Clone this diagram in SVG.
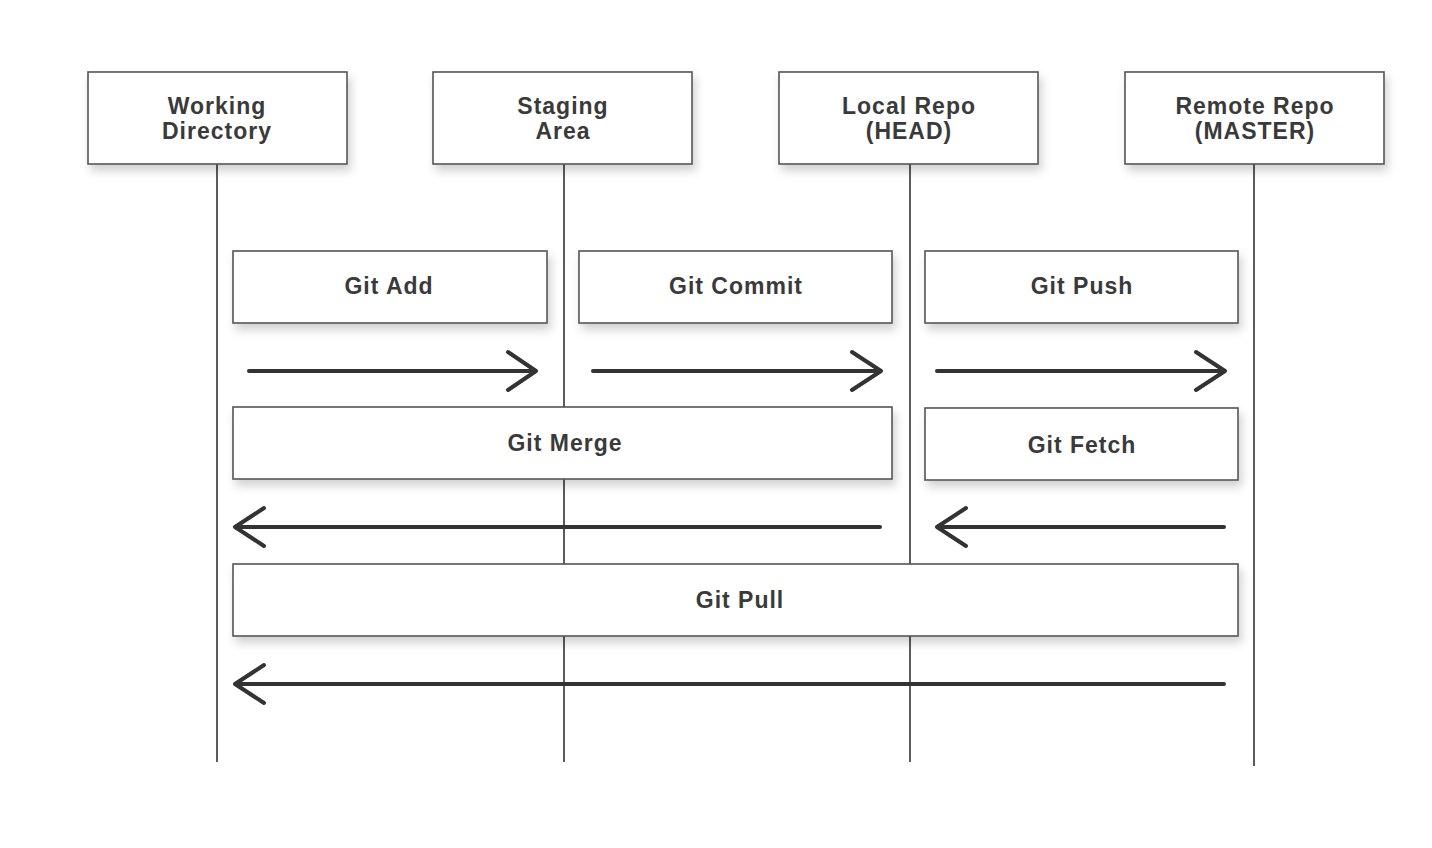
<svg xmlns="http://www.w3.org/2000/svg" width="1432" height="848" viewBox="0 0 1432 848">
<defs>
<filter id="sh" x="-10%" y="-20%" width="120%" height="160%">
<feDropShadow dx="3" dy="6" stdDeviation="5" flood-color="#000" flood-opacity="0.18"/>
</filter>
<style>
.box{fill:#fff;stroke:#555;stroke-width:1.6;filter:url(#sh)}
.lbl{font-family:"Liberation Sans",Arial,sans-serif;font-weight:bold;font-size:23px;letter-spacing:1px;fill:#3a3a3a;text-anchor:middle}
.life{stroke:#333;stroke-width:1.6;fill:none}
.arr{stroke:#333;stroke-width:4;fill:none;stroke-linecap:round;stroke-linejoin:round}
</style>
</defs>
<rect width="1432" height="848" fill="#fff"/>
<g id="lifelines">
<line class="life" x1="217" y1="164" x2="217" y2="762"/>
<line class="life" x1="564" y1="164" x2="564" y2="762"/>
<line class="life" x1="910" y1="164" x2="910" y2="762"/>
<line class="life" x1="1254" y1="164" x2="1254" y2="766"/>
</g>
<g id="working-directory"><rect class="box" x="88" y="72" width="259" height="92"/><text class="lbl" x="217" y="114">Working</text><text class="lbl" x="217" y="139">Directory</text></g>
<g id="staging-area"><rect class="box" x="433" y="72" width="259" height="92"/><text class="lbl" x="563" y="114">Staging</text><text class="lbl" x="563" y="139">Area</text></g>
<g id="local-repo"><rect class="box" x="779" y="72" width="259" height="92"/><text class="lbl" x="909" y="114">Local Repo</text><text class="lbl" x="909" y="139">(HEAD)</text></g>
<g id="remote-repo"><rect class="box" x="1125" y="72" width="259" height="92"/><text class="lbl" x="1255" y="114">Remote Repo</text><text class="lbl" x="1255" y="139">(MASTER)</text></g>
<g id="git-add"><rect class="box" x="233" y="251" width="314" height="72"/><text class="lbl" x="389" y="294">Git Add</text></g>
<g id="git-commit"><rect class="box" x="579" y="251" width="313" height="72"/><text class="lbl" x="736" y="294">Git Commit</text></g>
<g id="git-push"><rect class="box" x="925" y="251" width="313" height="72"/><text class="lbl" x="1082" y="294">Git Push</text></g>
<g id="git-merge"><rect class="box" x="233" y="407" width="659" height="72"/><text class="lbl" x="565" y="451">Git Merge</text></g>
<g id="git-fetch"><rect class="box" x="925" y="408" width="313" height="72"/><text class="lbl" x="1082" y="453">Git Fetch</text></g>
<g id="git-pull"><rect class="box" x="233" y="564" width="1005" height="72"/><text class="lbl" x="740" y="608">Git Pull</text></g>
<g id="connectors">
<path class="arr" d="M249 371H536M508 352L536 371L508 390"/>
<path class="arr" d="M593 371H881M852 352L881 371L852 390"/>
<path class="arr" d="M937 371H1225M1196 352L1225 371L1196 390"/>
<path class="arr" d="M880 527H235M264 508L235 527L264 546"/>
<path class="arr" d="M1224 527H937M966 508L937 527L966 546"/>
<path class="arr" d="M1224 684H235M264 665L235 684L264 703"/>
</g>
</svg>
